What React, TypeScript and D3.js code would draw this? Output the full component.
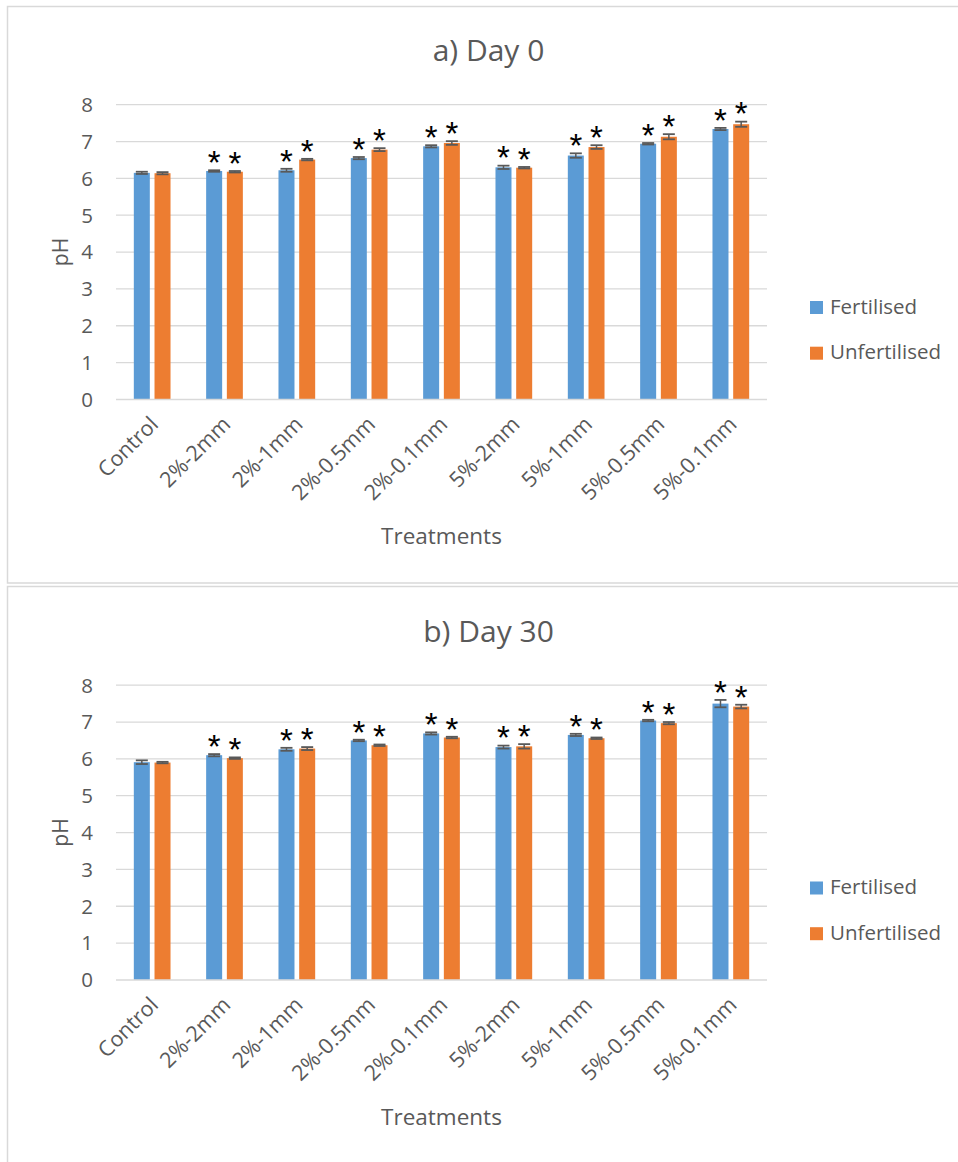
import React from "react";
import * as d3 from "d3";

const categories = [
  "Control",
  "2%-2mm",
  "2%-1mm",
  "2%-0.5mm",
  "2%-0.1mm",
  "5%-2mm",
  "5%-1mm",
  "5%-0.5mm",
  "5%-0.1mm",
];
const seriesNames = ["Fertilised", "Unfertilised"];
const seriesColors = ["#5B9BD5", "#ED7D31"];
const yTicks = [0, 1, 2, 3, 4, 5, 6, 7, 8];

// Day 0 means and standard errors
const day0Fertilised = [6.15, 6.2, 6.22, 6.55, 6.87, 6.3, 6.62, 6.94, 7.34];
const day0Unfertilised = [6.14, 6.18, 6.51, 6.78, 6.96, 6.29, 6.85, 7.13, 7.47];
const day0FertilisedErr = [0.03, 0.02, 0.04, 0.03, 0.03, 0.045, 0.06, 0.02, 0.03];
const day0UnfertilisedErr = [0.03, 0.02, 0.02, 0.04, 0.05, 0.02, 0.05, 0.07, 0.07];
const day0Significant = [false, true, true, true, true, true, true, true, true];

// Day 30 means and standard errors
const day30Fertilised = [5.91, 6.1, 6.26, 6.5, 6.69, 6.32, 6.65, 7.04, 7.5];
const day30Unfertilised = [5.9, 6.02, 6.28, 6.37, 6.58, 6.34, 6.56, 6.97, 7.42];
const day30FertilisedErr = [0.05, 0.03, 0.04, 0.02, 0.03, 0.04, 0.03, 0.02, 0.1];
const day30UnfertilisedErr = [0.02, 0.02, 0.04, 0.02, 0.02, 0.06, 0.02, 0.03, 0.05];
const day30Significant = [false, true, true, true, true, true, true, true, true];

const FONT = "'Open Sans', 'Liberation Sans', sans-serif";
const TEXT = "#595959";
const GRID = "#d9d9d9";

type PanelProps = {
  top: number;
  title: string;
  values: number[][];
  errors: number[][];
  significant: boolean[];
};

function Panel({ top, title, values, errors, significant }: PanelProps) {
  const plotLeft = 116;
  const plotRight = 767;
  const plotTop = top + 98.7;
  const plotBottom = top + 393.4;

  const x0 = d3.scaleBand<string>().domain(categories).range([plotLeft, plotRight]).padding(0);
  const step = x0.step();
  const x1 = d3
    .scaleBand<string>()
    .domain(seriesNames)
    .range([step / 2 - 18.35, step / 2 + 18.35])
    .paddingInner(0.227);
  const y = d3.scaleLinear().domain([0, 8]).range([plotBottom, plotTop]);
  const capHalf = 6;

  return (
    <g>
      <text
        x={488.5}
        y={top + 55}
        textAnchor="middle"
        fontFamily={FONT}
        fontSize={30}
        fill={TEXT}
      >
        {title}
      </text>

      {yTicks.map((t) => (
        <g key={t}>
          {t > 0 && (
            <line x1={plotLeft} x2={plotRight} y1={y(t)} y2={y(t)} stroke={GRID} strokeWidth={1.3} />
          )}
          <text
            x={93}
            y={y(t)}
            dy="0.36em"
            textAnchor="end"
            fontFamily={FONT}
            fontSize={20.5}
            fill={TEXT}
          >
            {t}
          </text>
        </g>
      ))}

      {categories.map((c, i) => (
        <g key={c}>
          {seriesNames.map((s, k) => {
            const v = values[k][i];
            const e = errors[k][i];
            const bx = (x0(c) as number) + (x1(s) as number);
            const bw = x1.bandwidth();
            const cx = bx + bw / 2;
            const errTop = y(v + e);
            return (
              <g key={s}>
                <rect x={bx} y={y(v)} width={bw} height={plotBottom - y(v)} fill={seriesColors[k]} />
                <line x1={cx} x2={cx} y1={y(v - e)} y2={errTop} stroke={TEXT} strokeWidth={1.5} />
                <line x1={cx - capHalf} x2={cx + capHalf} y1={errTop} y2={errTop} stroke={TEXT} strokeWidth={1.8} />
                <line
                  x1={cx - capHalf}
                  x2={cx + capHalf}
                  y1={y(v - e)}
                  y2={y(v - e)}
                  stroke={TEXT}
                  strokeWidth={1.8}
                />
                {significant[i] && (
                  <text
                    x={cx}
                    y={errTop - 16}
                    dy="0.6em"
                    textAnchor="middle"
                    fontFamily="'Liberation Sans', Arial, sans-serif"
                    fontSize={33}
                    fill="#000"
                  >
                    *
                  </text>
                )}
              </g>
            );
          })}
          <text
            transform={`translate(${(x0(c) as number) + step / 2 + 2},${plotBottom + 21}) rotate(-45)`}
            textAnchor="end"
            dy="0.35em"
            fontFamily={FONT}
            fontSize={21.5}
            fill={TEXT}
          >
            {c}
          </text>
        </g>
      ))}

      <line x1={plotLeft} x2={plotRight} y1={plotBottom} y2={plotBottom} stroke={GRID} strokeWidth={1.5} />

      <text
        transform={`translate(68,${top + 246}) rotate(-90)`}
        textAnchor="middle"
        fontFamily={FONT}
        fontSize={21}
        fill={TEXT}
      >
        pH
      </text>

      <text
        x={441.5}
        y={top + 538}
        textAnchor="middle"
        fontFamily={FONT}
        fontSize={22.5}
        fill={TEXT}
      >
        Treatments
      </text>

      {seriesNames.map((s, k) => (
        <g key={s} transform={`translate(810,${top + 295 + k * 45.7})`}>
          <rect x={0} y={0} width={13} height={13} fill={seriesColors[k]} />
          <text x={20} y={12.5} fontFamily={FONT} fontSize={20.5} fill={TEXT}>
            {s}
          </text>
        </g>
      ))}
    </g>
  );
}

export default function App() {
  return (
    <svg
      width={958}
      height={1162}
      style={{ position: "absolute", left: 0, top: 0, background: "#fff" }}
    >
      <rect x={0} y={0} width={958} height={1162} fill="#fff" />
      <rect x={7.5} y={6.5} width={960} height={576.5} fill="none" stroke={GRID} strokeWidth={1.5} />
      <rect x={7.5} y={586.5} width={960} height={590} fill="none" stroke={GRID} strokeWidth={1.5} />
      <Panel
        top={6}
        title="a) Day 0"
        values={[day0Fertilised, day0Unfertilised]}
        errors={[day0FertilisedErr, day0UnfertilisedErr]}
        significant={day0Significant}
      />
      <Panel
        top={586.5}
        title="b) Day 30"
        values={[day30Fertilised, day30Unfertilised]}
        errors={[day30FertilisedErr, day30UnfertilisedErr]}
        significant={day30Significant}
      />
    </svg>
  );
}
